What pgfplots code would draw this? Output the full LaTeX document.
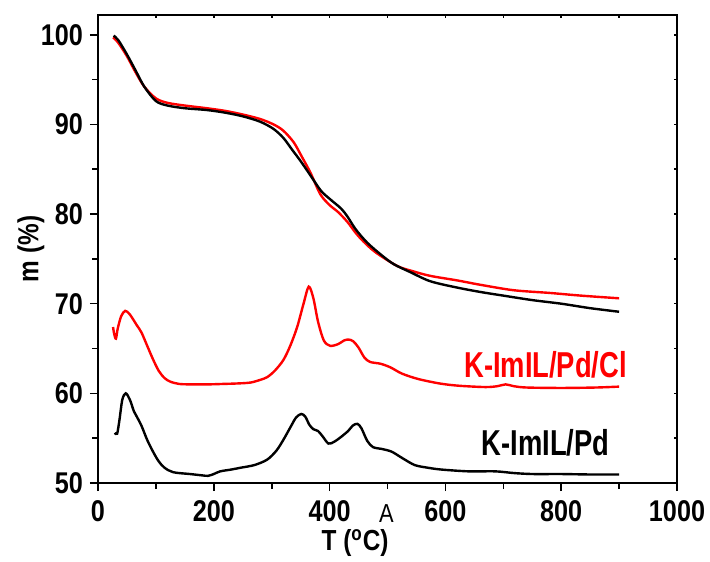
\documentclass[border=0pt]{standalone}
\usepackage{pgfplots}
\pgfplotsset{compat=1.18}
\usepackage{fontspec}
\setmainfont{Liberation Sans}[FakeStretch=0.84]
\newfontfamily\labfont{Liberation Sans}[FakeStretch=0.76]

% TGA curves
\pgfplotstableread{
T m
27 99.9
35 99.4
50 97.8
65 96.0
80 94.2
100 92.6
120 92.1
150 91.8
188 91.6
220 91.3
250 90.9
280 90.3
303 89.5
320 88.5
335 87.2
350 85.9
367 84.3
385 82.6
400 81.7
420 80.6
431 79.7
445 78.3
465 76.8
490 75.4
511 74.4
540 73.5
574 72.5
620 71.8
661 71.3
700 70.9
750 70.4
800 70.0
850 69.5
900 69.1
}\tgaPd
\pgfplotstableread{
T m
26 99.7
35 99.1
50 97.6
65 95.8
80 94.2
100 92.9
120 92.4
150 92.1
188 91.8
220 91.5
250 91.1
280 90.6
303 90.0
320 89.3
338 88.0
352 86.4
367 84.6
384 82.2
400 81.0
415 80.2
431 79.1
445 77.9
459 76.9
480 75.7
517 74.2
545 73.6
574 73.1
620 72.6
661 72.1
718 71.5
780 71.2
834 70.9
900 70.6
}\tgaPdCl
% DTG curves (offset onto the same scale)
\pgfplotstableread{
T m
26 67.4
28 66.6
31 66.1
34 67.2
40 68.6
47 69.2
55 68.8
67 67.6
75 66.8
85 65.3
95 63.8
105 62.5
115 61.7
125 61.3
140 61.05
160 61.0
190 61.0
216 61.05
240 61.1
263 61.2
280 61.5
292 61.8
305 62.5
320 63.7
332 65.3
344 67.4
355 70.0
364 71.9
372 70.6
380 68.0
390 65.9
401 65.3
415 65.5
425 65.9
433 66.0
441 65.8
450 65.1
460 64.0
470 63.5
488 63.3
505 62.9
525 62.2
553 61.6
590 61.1
623 60.85
669 60.7
690 60.8
704 61.0
718 60.8
740 60.65
800 60.6
860 60.65
900 60.75
}\dtgPdCl
\pgfplotstableread{
T m
29 55.6
33 55.5
37 57.0
42 59.3
48 60.0
55 59.3
62 58.0
67 57.4
75 56.4
85 54.8
95 53.5
105 52.4
115 51.7
130 51.2
159 51.0
180 50.85
190 50.8
200 51.0
211 51.3
230 51.5
246 51.7
270 52.0
292 52.6
308 53.6
320 54.8
333 56.3
342 57.3
351 57.7
358 57.4
365 56.5
372 56.0
380 55.8
388 55.2
398 54.4
408 54.6
419 55.1
432 55.8
440 56.4
448 56.6
455 56.1
465 54.7
475 54.0
490 53.8
507 53.5
525 52.8
547 52.0
570 51.7
593 51.5
640 51.3
686 51.3
720 51.1
751 51.0
800 51.0
850 50.95
900 50.95
}\dtgPd

\begin{document}
\begin{tikzpicture}
\useasboundingbox (0pt,0pt) rectangle (355pt,280.5pt);
\pgfplotsset{
  common/.style={
    at={(49pt,39pt)}, anchor=south west,
    scale only axis, width=289.5pt, height=234pt,
    xmin=0, xmax=1000, ymin=50, ymax=102.2,
    xtick={0,200,...,1000}, minor xtick={100,300,...,900},
    ytick={50,60,...,100}, minor ytick={55,65,...,95},
    axis line style={line width=1pt},
    every tick/.style={black, line width=0.8pt},
  }
}
% tiny inner ticks on top and right
\begin{axis}[common,
  xtick pos=upper, ytick pos=right, tick align=inside,
  major tick length=1.5pt, minor tick length=1.5pt,
  xticklabels={}, yticklabels={}]
\end{axis}
\begin{axis}[common,
  xtick pos=lower, ytick pos=left, tick align=outside,
  major tick length=4pt, minor tick length=3pt,
  clip=false,
  /pgf/number format/assume math mode=true,
  /pgf/number format/1000 sep={},
  ticklabel style={font=\bfseries\fontsize{15}{15}\selectfont},
  xticklabel style={yshift=-1pt},
  xlabel={T (\textsuperscript{o}C)}, ylabel={m (\%)},
  label style={font=\bfseries\fontsize{14.5}{14.5}\selectfont},
  xlabel style={at={(axis description cs:0.444,-0.128)}, anchor=center},
  ylabel style={at={(axis description cs:-0.116,0.5)}, anchor=center, rotate=0},
  every axis plot/.append style={line width=1.2pt, smooth, tension=0.5},
]
\addplot[red] table[x=T,y=m] {\tgaPdCl};
\addplot[black] table[x=T,y=m] {\tgaPd};
\addplot[red] table[x=T,y=m] {\dtgPdCl};
\addplot[black] table[x=T,y=m] {\dtgPd};
\node[red, font=\labfont\bfseries\fontsize{18}{18}\selectfont] at (axis cs:773,63.2) {K-ImIL/Pd/Cl};
\node[black, font=\labfont\bfseries\fontsize{18}{18}\selectfont] at (axis cs:773,54.5) {K-ImIL/Pd};
\node[font=\fontsize{13}{13}\selectfont] at (axis description cs:0.498,-0.066) {A};
\end{axis}
\end{tikzpicture}
\end{document}
